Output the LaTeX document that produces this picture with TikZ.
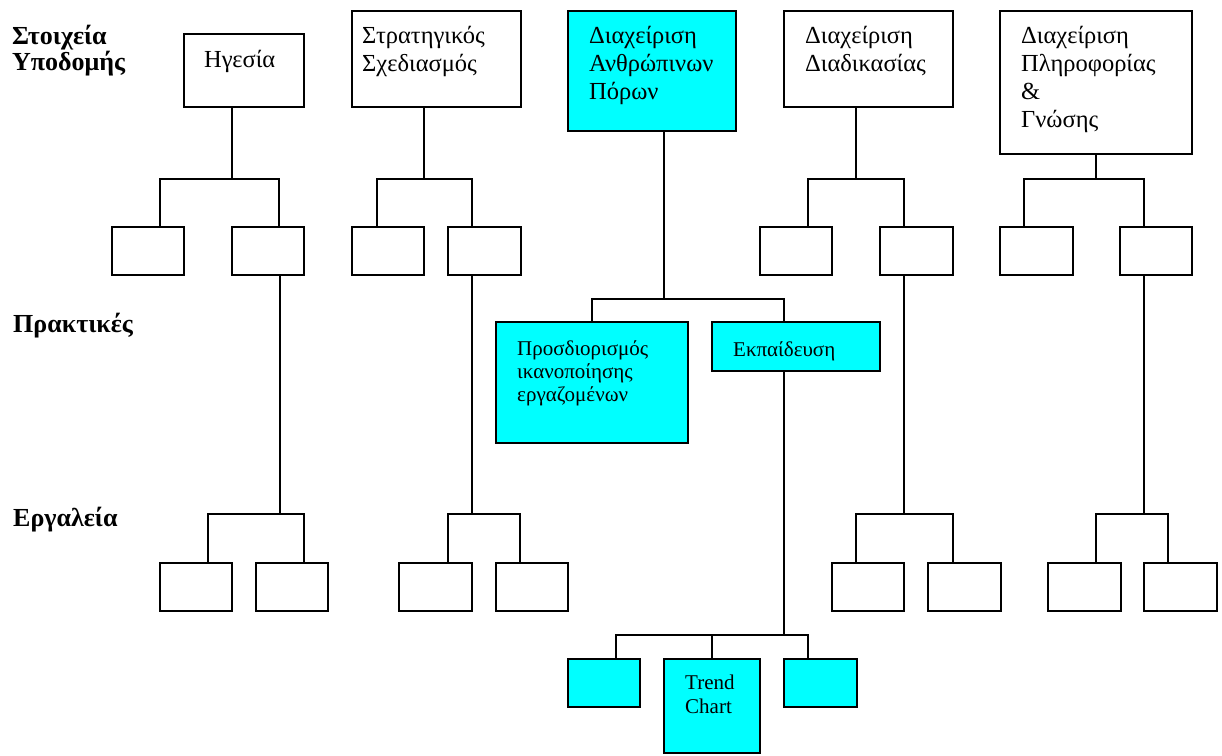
\documentclass[tikz,border=0pt]{standalone}
\usepackage{fontspec}
\setmainfont{Liberation Serif}
\definecolor{hrcyan}{RGB}{0,255,255}
% a box given by its corners: name, x1, y1, x2, y2, style
\newcommand\orgbox[6]{%
  \node[#6, minimum width={#4-#2}, minimum height={#5-#3}] (#1)
    at ({(#2+#4)/2},{(#3+#5)/2}) {};}
\begin{document}
\begin{tikzpicture}[x=1pt,y=-1pt,
  box/.style={draw=black, line width=2pt, fill=white, inner sep=0pt, outer sep=0pt},
  hrbox/.style={box, fill=hrcyan},
  link/.style={draw=black, line width=2pt},
  toptext/.style={inner sep=0pt, anchor=north west, align=left,
    font=\fontsize{24.5}{28}\selectfont},
  lowtext/.style={inner sep=0pt, anchor=north west, align=left,
    font=\fontsize{21}{23}\selectfont},
  rowlabel/.style={inner sep=0pt, anchor=north west, align=left,
    font=\fontsize{26}{26}\selectfont\bfseries}]
\useasboundingbox (0,0) rectangle (1222,755);

% ---------- row labels ----------
\node[rowlabel] (lInfra) at (12,44-22) {\vrule height 22pt width 0pt Στοιχεία\\Υποδομής};
\node[rowlabel] (lPract) at (13,332-22) {\vrule height 22pt width 0pt Πρακτικές};
\node[rowlabel] (lTools) at (13,526-22) {\vrule height 22pt width 0pt Εργαλεία};

% ---------- leadership ----------
\orgbox{hg}{184}{34}{304}{107}{box}
\orgbox{hg1}{112}{227}{184}{275}{box}
\orgbox{hg2}{232}{227}{304}{275}{box}
\orgbox{hg21}{160}{563}{232}{611}{box}
\orgbox{hg22}{256}{563}{328}{611}{box}
\node[toptext] (hgT) at (204,67-21) {\vrule height 21pt width 0pt Ηγεσία};
\coordinate (hgj) at (232,179);
\coordinate (hgk) at (280,514);
\draw[link] (hg.south -| hgj) -- (hgj);
\draw[link] ([xshift=12pt]hg1.north) |- (hgj) -| ([xshift=11pt]hg2.north);
\draw[link] (hg2.south -| hgk) -- (hgk);
\draw[link] ([xshift=12pt]hg21.north) |- (hgk) -| ([xshift=12pt]hg22.north);

% ---------- strategic planning ----------
\orgbox{ss}{352}{11}{521}{107}{box}
\orgbox{ss1}{352}{227}{424}{275}{box}
\orgbox{ss2}{448}{227}{521}{275}{box}
\orgbox{ss21}{399}{563}{472}{611}{box}
\orgbox{ss22}{496}{563}{568}{611}{box}
\node[toptext] (ssT) at (362,43-21) {\vrule height 21pt width 0pt Στρατηγικός\\Σχεδιασμός};
\coordinate (ssj) at (424,179);
\coordinate (ssk) at (472,514);
\draw[link] (ss.south -| ssj) -- (ssj);
\draw[link] ([xshift=-11pt]ss1.north) |- (ssj) -| ([xshift=-12.5pt]ss2.north);
\draw[link] (ss2.south -| ssk) -- (ssk);
\draw[link] ([xshift=12.5pt]ss21.north) |- (ssk) -| ([xshift=-12pt]ss22.north);

% ---------- human resources ----------
\orgbox{hr}{568}{11}{736}{131}{hrbox}
\orgbox{hr1}{496}{322}{688}{443}{hrbox}
\orgbox{hr2}{712}{322}{880}{371}{hrbox}
\orgbox{hr21}{568}{659}{640}{707}{hrbox}
\orgbox{hr22}{664}{659}{760}{753}{hrbox}
\orgbox{hr23}{784}{659}{857}{707}{hrbox}
\node[toptext] (hrT) at (589,43-21) {\vrule height 21pt width 0pt Διαχείριση\\Ανθρώπινων\\Πόρων};
\node[lowtext] (hr1T) at (517,355-18) {\vrule height 18pt width 0pt Προσδιορισμός\\ικανοποίησης\\εργαζομένων};
\node[lowtext] (hr2T) at (733,356-18) {\vrule height 18pt width 0pt Εκπαίδευση};
\node[lowtext, font=\fontsize{21}{24}\selectfont] (hr22T) at (685,689-18) {\vrule height 18pt width 0pt Trend\\Chart};
\coordinate (hrj) at (664,299);
\coordinate (hrk) at (784,635);
\draw[link] (hr.south -| hrj) -- (hrj);
\draw[link] (hr1.north) |- (hrj) -| ([xshift=-12pt]hr2.north);
\draw[link] (hr2.south -| hrk) -- (hrk);
\draw[link] ([xshift=12pt]hr21.north) |- (hrk) -| ([xshift=-12.5pt]hr23.north);
\draw[link] (hr22.north) -- (hr22.north |- hrk);

% ---------- process management ----------
\orgbox{pr}{784}{11}{953}{107}{box}
\orgbox{pr1}{760}{227}{832}{275}{box}
\orgbox{pr2}{880}{227}{953}{275}{box}
\orgbox{pr21}{832}{563}{904}{611}{box}
\orgbox{pr22}{928}{563}{1001}{611}{box}
\node[toptext] (prT) at (805,43-21) {\vrule height 21pt width 0pt Διαχείριση\\Διαδικασίας};
\coordinate (prj) at (856,179);
\coordinate (prk) at (904,514);
\draw[link] (pr.south -| prj) -- (prj);
\draw[link] ([xshift=12pt]pr1.north) |- (prj) -| ([xshift=-12.5pt]pr2.north);
\draw[link] (pr2.south -| prk) -- (prk);
\draw[link] ([xshift=-12pt]pr21.north) |- (prk) -| ([xshift=-11.5pt]pr22.north);

% ---------- information & knowledge ----------
\orgbox{km}{1000}{11}{1192}{154}{box}
\orgbox{km1}{1000}{227}{1073}{275}{box}
\orgbox{km2}{1120}{227}{1192}{275}{box}
\orgbox{km21}{1048}{563}{1121}{611}{box}
\orgbox{km22}{1144}{563}{1217}{611}{box}
\node[toptext] (kmT) at (1021,43-21) {\vrule height 21pt width 0pt Διαχείριση\\Πληροφορίας\\\&\\Γνώσης};
\coordinate (kmj) at (1096,179);
\coordinate (kmk) at (1144,514);
\draw[link] (km.south -| kmj) -- (kmj);
\draw[link] ([xshift=-12.5pt]km1.north) |- (kmj) -| ([xshift=-12pt]km2.north);
\draw[link] (km2.south -| kmk) -- (kmk);
\draw[link] ([xshift=11.5pt]km21.north) |- (kmk) -| ([xshift=-12.5pt]km22.north);
\end{tikzpicture}
\end{document}
